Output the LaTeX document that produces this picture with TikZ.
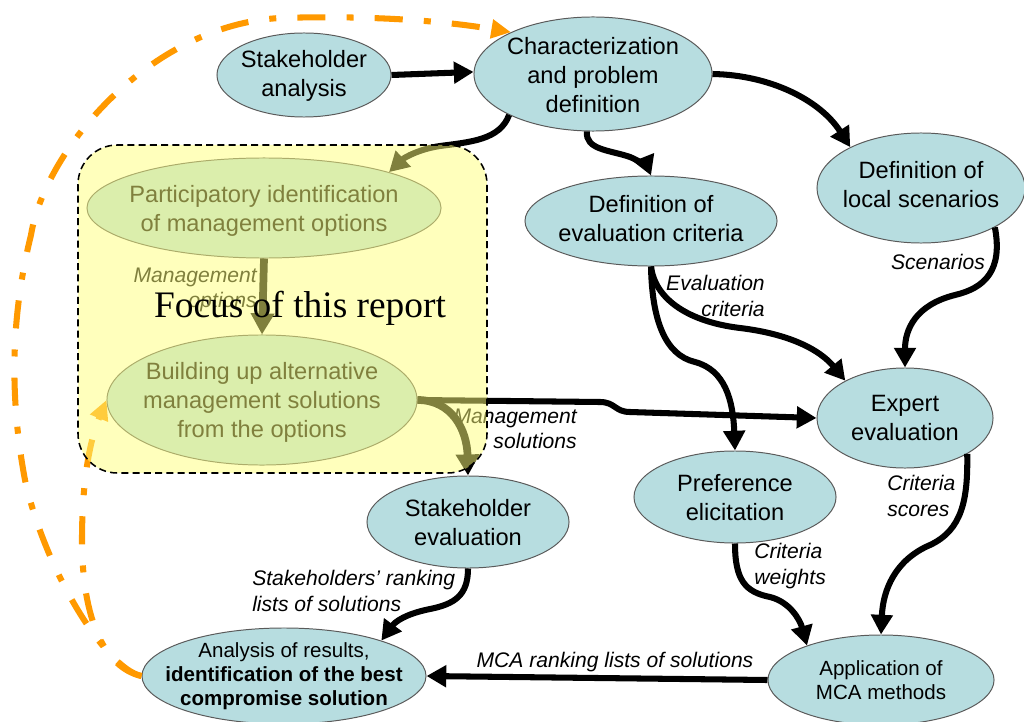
\documentclass[tikz,border=0pt]{standalone}
\usepackage{fontspec}
\setmainfont{Liberation Sans}
\newfontfamily\serifx{Liberation Serif}
\usetikzlibrary{shapes.geometric,arrows.meta}
\definecolor{blobfill}{RGB}{183,221,224}
\definecolor{edgegray}{RGB}{90,90,90}
\definecolor{orng}{RGB}{255,153,0}
\definecolor{ovl}{RGB}{255,255,122}
\tikzset{
 blob/.style={ellipse, draw=edgegray, line width=0.7pt, fill=blobfill, inner sep=0pt},
 ell/.style 2 args={minimum width=#1*1.4226pt, minimum height=#2*1.4226pt},
 ntext/.style={align=center, font=\fontsize{16.8}{20.6}\selectfont, inner sep=0pt},
 stext/.style={align=center, font=\fontsize{14.6}{17}\selectfont, inner sep=0pt},
 lbl/.style={font=\fontsize{15}{18}\selectfont\itshape, inner sep=0pt},
 arr/.style={line width=4.3pt, -{Triangle[length=14pt,width=15pt]}},
 thickarr/.style={line width=5.5pt, -{Triangle[length=15pt,width=16pt]}},
 orarr/.style={draw=orng, line width=4.3pt, dash pattern=on 20pt off 15pt on 5pt off 15pt, -{Triangle[length=14pt,width=13pt]}},
}
\begin{document}
\begin{tikzpicture}[x=0.025cm,y=-0.025cm]
\useasboundingbox (0,0) rectangle (1024,722);
% ellipses
\node[blob, ell={87}{42}] (sa) at (304,75) {};
\node[ntext] (tsa) at (304,76) {Stakeholder\\analysis};
\node[blob, ell={119}{57}] (cpd) at (593,74) {};
\node[ntext] (tcpd) at (593,75) {Characterization\\and problem\\definition};
\node[blob, ell={177}{50}] (pio) at (264,208) {};
\node[ntext] (tpio) at (264,211) {Participatory identification\\of management options};
\node[blob, ell={155}{65}] (bam) at (262,400) {};
\node[ntext] (tbam) at (262,402) {Building up alternative\\management solutions\\from the options};
\node[blob, ell={126}{45}] (dec) at (651,221) {};
\node[ntext] (tdec) at (651,219) {Definition of\\evaluation criteria};
\node[blob, ell={104}{55}] (dls) at (921,188) {};
\node[ntext] (tdls) at (921,185) {Definition of\\local scenarios};
\node[blob, ell={88}{50}] (ee) at (905,418) {};
\node[ntext] (tee) at (905,418) {Expert\\evaluation};
\node[blob, ell={101}{46}] (pe) at (735,497) {};
\node[ntext] (tpe) at (735,498) {Preference\\elicitation};
\node[blob, ell={101}{46}] (se) at (468,522) {};
\node[ntext] (tse) at (468,523) {Stakeholder\\evaluation};
\node[blob, ell={142}{48}] (ar) at (284,676) {};
\node[stext] (tar) at (284,676) {Analysis of results,\\\textbf{identification of the best}\\\textbf{compromise solution}};
\node[blob, ell={113}{45}] (mca) at (881,680) {};
\node[stext] (tmca) at (881,680) {Application of\\MCA methods};
% connectors
\draw[arr] (sa.east) -- (cpd.179);
\draw[arr] (cpd.206) .. controls (500,140) and (470,142) .. (440,146) .. controls (420,149) and (405,157) .. (pio.16);
\draw[arr] (cpd.264) .. controls (585,150) and (610,150) .. (630,157) .. controls (640,161) and (648,168) .. (dec.north);
\draw[arr] (cpd.east) .. controls (770,75) and (820,100) .. (dls.150);
\draw[thickarr] (pio.south) -- (bam.north);
\draw[arr] (bam.east) -- (600,402) .. controls (615,402) and (615,412) .. (630,412) -- (ee.west);
\draw[thickarr] (bam.east) .. controls (452,400) and (467,430) .. (se.north);
\draw[arr] (dec.south) .. controls (655,300) and (690,322) .. (740,328) .. controls (790,334) and (820,350) .. (ee.148);
\draw[arr] (dec.south) .. controls (652,320) and (665,355) .. (695,362) .. controls (725,370) and (733,400) .. (pe.north);
\draw[arr] (dls.-28) .. controls (1003,270) and (985,288) .. (955,295) .. controls (915,305) and (905,330) .. (ee.north);
\draw[arr] (ee.330) .. controls (968,500) and (962,530) .. (930,545) .. controls (895,560) and (883,590) .. (mca.north);
\draw[arr] (pe.south) .. controls (735,580) and (745,592) .. (770,597) .. controls (790,602) and (800,620) .. (mca.155);
\draw[arr] (se.south) .. controls (468,595) and (455,604) .. (430,609) .. controls (405,614) and (395,622) .. (ar.20);
\draw[arr] (mca.west) -- (ar.east);
% orange feedback lines
\draw[orarr] (ar.west) .. controls (105,668) and (45,570) .. (25,480) .. controls (10,400) and (10,320) .. (31,235) .. controls (45,150) and (150,25) .. (280,18) .. controls (380,15) and (450,22) .. (cpd.153);
\draw[orarr] (ar.west) .. controls (105,668) and (82,620) .. (82,540) .. controls (82,480) and (90,440) .. (bam.west);
% labels
\node[lbl, align=right, anchor=east] (lmo) at (257,290) {Management\\options};
\node[lbl, align=right, anchor=east] (lms) at (577,429) {Management\\solutions};
\node[lbl, align=right, anchor=east] (lec) at (765,296) {Evaluation\\criteria};
\node[lbl] (lsc) at (938,262) {Scenarios};
\node[lbl, align=left, anchor=west] (lcs) at (887,496) {Criteria\\scores};
\node[lbl, align=left, anchor=west] (lcw) at (754,566) {Criteria\\weights};
\node[lbl, align=left, anchor=west] (lsr) at (252,591) {Stakeholders’ ranking\\lists of solutions};
\node[lbl] (lmr) at (615,662) {MCA ranking lists of solutions};
% overlay
\path[draw=black, line width=1.1pt, dash pattern=on 5pt off 3pt, fill=ovl, fill opacity=0.5, rounded corners=28pt] (78,145) rectangle (487,473);
\node[font=\serifx\fontsize{26.6}{30}\selectfont, anchor=base, inner sep=0pt] (focus) at (300,317) {Focus of this report};
\end{tikzpicture}
\end{document}
